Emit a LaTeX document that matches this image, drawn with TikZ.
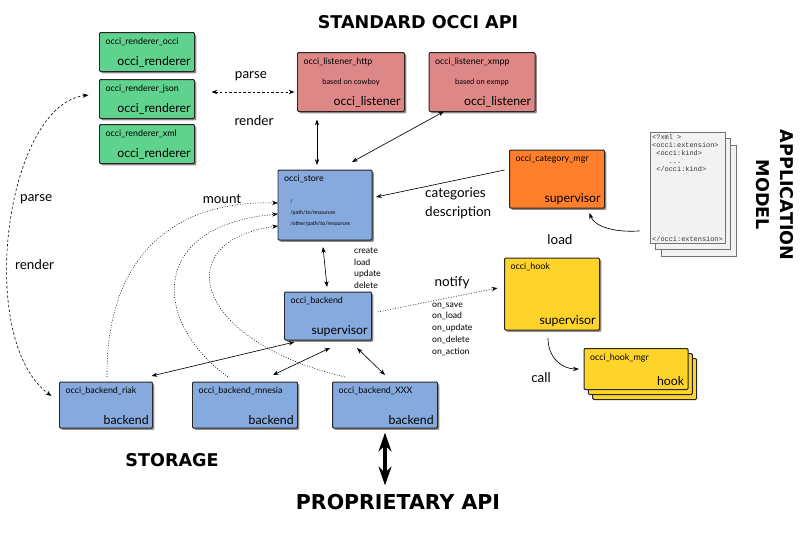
\documentclass[tikz,border=0pt]{standalone}
\usepackage{fontspec}
\setmainfont{Lato}
\setmonofont{Liberation Mono}
\newfontfamily\fuentetitulo{DejaVu Sans}
\usetikzlibrary{arrows.meta,shadows,calc}

\definecolor{verde}{HTML}{5FD38D}
\definecolor{rojo}{HTML}{DE8787}
\definecolor{azul}{HTML}{87AADE}
\definecolor{naranja}{HTML}{FF7F2A}
\definecolor{amarillo}{HTML}{FFD42A}
\definecolor{papel}{HTML}{F2F2F2}
\definecolor{sombra}{HTML}{6B5E55}

\tikzset{
  borde/.style={draw=black!85, line width=0.85pt, rounded corners=1pt, outer sep=0pt, inner sep=0pt},
  caja/.style={borde, drop shadow={shadow xshift=1.6pt, shadow yshift=-1.6pt, fill=sombra, opacity=.7}},
  pila/.style={borde, double copy shadow={shadow xshift=0.13cm, shadow yshift=-0.15cm}},
  hoja/.style={draw=black!55, line width=0.6pt, fill=papel, inner sep=0pt,
    double copy shadow={shadow xshift=0.16cm, shadow yshift=-0.19cm}},
  tam/.style 2 args={minimum width=#1*0.03cm, minimum height=#2*0.03cm},
  tl/.style={label={[anchor=north west, inner sep=4pt, xshift=1pt, font=\fontsize{7.6}{9}\selectfont]north west:#1}},
  br/.style={label={[anchor=south east, inner sep=3pt, font=\fontsize{10.5}{12}\selectfont]south east:#1}},
  etiqueta/.style={font=\fontsize{11.5}{16}\selectfont},
  chica/.style={font=\fontsize{7.4}{10}\selectfont, align=left, anchor=west},
  titulo/.style={font=\fuentetitulo\bfseries\fontsize{15}{21}\selectfont},
  punteado/.style={dash pattern=on 0.8pt off 1.4pt, line width=0.45pt},
  rayado/.style={dash pattern=on 2.2pt off 1.8pt, line width=0.5pt}
}

\begin{document}
\begin{tikzpicture}[x=0.03cm, y=-0.03cm, line width=0.55pt, >={Stealth[length=5pt, width=3.6pt]}]
    \useasboundingbox (0,0) rectangle (800,548);

    % Titulos
    \node[titulo] (std) at (418,22) {STANDARD OCCI API};
    \node[titulo] (storage) at (172,460) {STORAGE};
    \node[titulo, font=\fuentetitulo\bfseries\fontsize{17.5}{21}\selectfont] (prop) at (398,502) {PROPRIETARY API};
    \node[titulo, rotate=-90, align=center] (app) at (775,195) {APPLICATION\\MODEL};

    % Renderers
    \node[caja, fill=verde, tam={95}{39}, tl={occi\_renderer\_occi}, br={occi\_renderer}] (rocci) at (147,52) {};
    \node[caja, fill=verde, tam={95}{39}, tl={occi\_renderer\_json}, br={occi\_renderer}] (json) at (147,99) {};
    \node[caja, fill=verde, tam={95}{39}, tl={occi\_renderer\_xml}, br={occi\_renderer}] (xml) at (147,144) {};

    % Listeners
    \node[caja, fill=rojo, tam={107}{59}, tl={occi\_listener\_http}, br={occi\_listener},
      font=\fontsize{6.4}{8}\selectfont] (http) at (351,82) {based on cowboy};
    \node[caja, fill=rojo, tam={106}{59}, tl={occi\_listener\_xmpp}, br={occi\_listener},
      font=\fontsize{6.4}{8}\selectfont] (xmpp) at (482,82) {based on exmpp};

    % Store
    \node[caja, fill=azul, tam={94}{70}, tl={occi\_store}] (store) at (325,205) {};
    \node[anchor=west, align=left, font=\fontsize{4.6}{9.4}\selectfont, inner sep=0pt] (rutas) at (290,213)
      {/\\/path/to/resources\\/other/path/to/resources};

    % Supervisores
    \node[caja, fill=naranja, tam={95}{58}, tl={occi\_category\_mgr}, br={supervisor}] (catmgr) at (557,179) {};
    \node[caja, fill=azul, tam={87}{48}, tl={occi\_backend}, br={supervisor}] (backend) at (328,316) {};
    \node[caja, fill=amarillo, tam={95}{72}, tl={occi\_hook}, br={supervisor}] (hook) at (552,294) {};
    \node[pila, fill=amarillo, tam={104}{41}, tl={occi\_hook\_mgr}, br={hook}] (hookmgr) at (636,369) {};

    % Backends
    \node[caja, fill=azul, tam={93}{46}, tl={occi\_backend\_riak}, br={backend}] (riak) at (106,405) {};
    \node[caja, fill=azul, tam={105}{46}, tl={occi\_backend\_mnesia}, br={backend}] (mnesia) at (245,405) {};
    \node[caja, fill=azul, tam={105}{46}, tl={occi\_backend\_XXX}, br={backend}] (xxx) at (385,405) {};

    % Extension XML
    \node[hoja, tam={75}{111}] (ext) at (688,188) {};
    \node[anchor=north west, align=left, inner sep=1.5pt, text=black!80,
      font=\ttfamily\fontsize{5.9}{6.9}\selectfont] (exttxt) at (ext.north west)
      {<?xml >\\<occi:extension>\\~<occi:kind>\\~~~~...\\~</occi:kind>};
    \node[anchor=south west, inner sep=1.5pt, text=black!80,
      font=\ttfamily\fontsize{5.9}{6.9}\selectfont] (extfin) at (ext.south west) {</occi:extension>};

    % Etiquetas
    \node[etiqueta] (lparse) at (251,76) {parse};
    \node[etiqueta] (lrender) at (254,121) {render};
    \node[etiqueta, anchor=west] (lparse2) at (16,199) {parse};
    \node[etiqueta, anchor=west] (lrender2) at (11,265) {render};
    \node[etiqueta] (lmount) at (222,199) {mount};
    \node[etiqueta, anchor=west, align=left] (lcat) at (421,203) {categories\\description};
    \node[etiqueta] (lload) at (560,240) {load};
    \node[etiqueta] (lnotify) at (452,283) {notify};
    \node[etiqueta] (lcall) at (541,378) {call};
    \node[chica] (lcrud) at (350,268) {create\\load\\update\\delete};
    \node[chica] (leventos) at (428,329) {on\_save\\on\_load\\on\_update\\on\_delete\\on\_action};

    % Conectores
    \draw[<->, rayado] ($(json.east)+(17,-7)$) -- ($(http.west)+(-3,10)$);
    \draw[<->, rayado] ($(json.west)+(-11,-4)$) .. controls (5,105) and (-25,340) .. ($(riak.west)+(-8,-9)$);
    \draw[<->] ($(store.north)+(-8,-5)$) -- ($(http.south)+(-34,8)$);
    \draw[<->] ($(store.north east)+(-20,-8)$) -- ($(xmpp.south west)+(15,0)$);
    \draw[->] ($(catmgr.west)+(-5,-9)$) -- ($(store.east)+(4,-8)$);
    \draw[<->] ($(store.south)+(-2,7)$) -- ($(backend.north)+(-1,-5)$);
    \draw[->, punteado] ($(backend.east)+(6,-4)$) -- ($(hook.west)+(-7,-6)$);
    \draw[->] ($(ext.south west)+(-10,-13)$) .. controls (614,233) and (594,226) .. ($(catmgr.south east)+(-15,5)$);
    \draw[->] ($(hook.south)+(-4,8)$) .. controls (548,358) and (562,369) .. ($(hookmgr.west)+(-5,0)$);

    % Montajes
    \draw[->, punteado] ($(riak.north)+(1,-5)$) .. controls (106,260) and (170,200) .. ($(store.west)+(0,-2)$);
    \draw[->, punteado] ($(mnesia.north)+(-17,-5)$) .. controls (150,320) and (150,225) .. ($(store.west)+(0,9)$);
    \draw[->, punteado] ($(xxx.north)+(-40,-5)$) .. controls (190,340) and (170,240) .. ($(store.west)+(0,21)$);

    % Backend hacia almacenes
    \draw[<->] ($(backend.south west)+(10,2)$) -- ($(riak.north east)+(-1,-6)$);
    \draw[<->] ($(backend.south)+(2,8)$) -- ($(mnesia.north)+(28,-7)$);
    \draw[<->] ($(backend.south)+(29,8)$) -- ($(xxx.north)+(0,-7)$);

    % API propietaria
    \draw[{Stealth[length=16pt, width=11pt]}-{Stealth[length=16pt, width=11pt]}, line width=2.6pt,
      shorten <=4pt, shorten >=4pt] (xxx.south) -- (xxx.south |- prop.north);
\end{tikzpicture}
\end{document}
